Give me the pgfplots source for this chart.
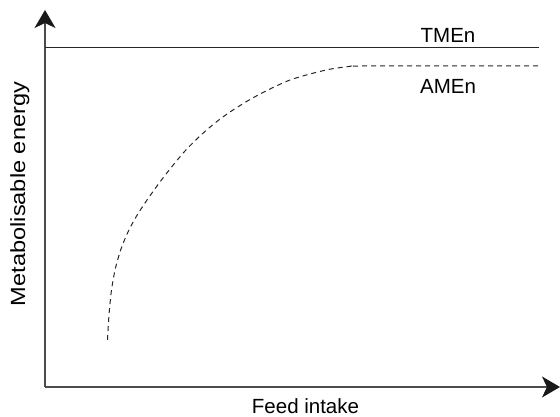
\documentclass[border=0pt]{standalone}
\usepackage{pgfplots}
\pgfplotsset{compat=1.18}
\usepackage{fontspec}
\setmainfont{Liberation Sans}
\usetikzlibrary{arrows.meta}
\begin{document}
\begin{tikzpicture}
\begin{axis}[
  x=1pt, y=1pt,
  xmin=45, xmax=560, ymin=30, ymax=407,
  axis lines=left,
  axis line style={line width=1.2pt, black!70, -{Stealth[length=18pt,width=21pt,inset=5pt,black!90]}},
  xtick=\empty, ytick=\empty,
  clip=false,
  anchor=origin, at={(45pt,30pt)},
]
\addplot[black!85, line width=0.9pt] coordinates {(45,370) (539,370)};
\addplot[black!85, line width=1pt, dash pattern=on 5pt off 4pt, smooth] coordinates {
(107.5,77) (109,102) (111.5,127) (115.5,149) (121,168) (128,185) (136,200) (145,214) (157,231) (170,248) (185,266) (200,281) (215,294) (230,305) (250,317.5) (270,328) (290,337) (310,343) (330,347.8) (350,350.6) (365,351) (539,351)};
\node[anchor=base, font=\fontsize{20.5}{24}\selectfont] at (axis cs:448,374.3) {TMEn};
\node[anchor=base, font=\fontsize{20.5}{24}\selectfont] at (axis cs:448,323) {AMEn};
\node[anchor=base, inner sep=0pt, font=\fontsize{20.5}{24}\selectfont] at (axis cs:305.5,3) {Feed intake};
\node[anchor=base, rotate=90, font=\fontsize{20.5}{24}\selectfont] at (axis cs:25,223) {\scalebox{1.15}[1]{Metabolisable energy}};
\coordinate (bl) at (axis cs:0,0);
\coordinate (tr) at (axis cs:560,417);
\end{axis}
\pgfresetboundingbox
\path[use as bounding box] (bl) rectangle (tr);
\end{tikzpicture}
\end{document}
